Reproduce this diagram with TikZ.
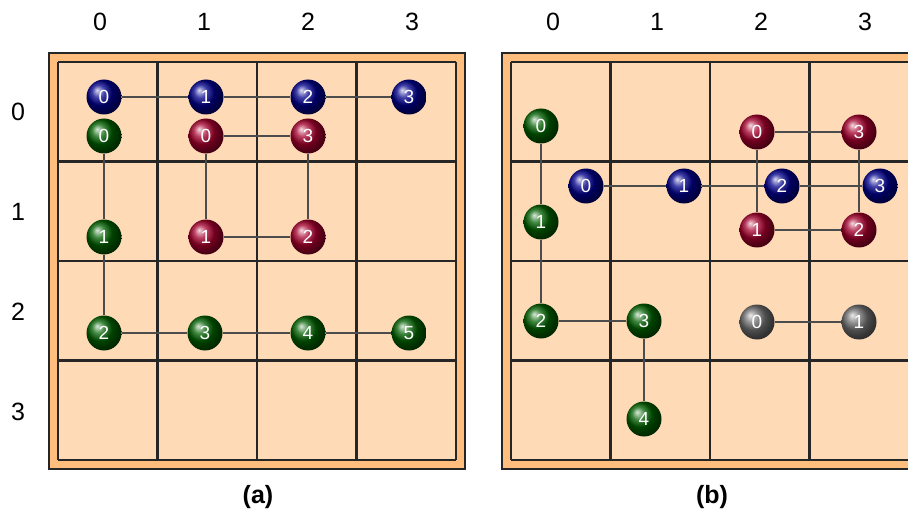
\documentclass[tikz,border=0pt]{standalone}
\usepackage{fontspec}
\setmainfont{Liberation Sans}
\usepackage{tikz}
\usetikzlibrary{positioning}
\definecolor{frameorange}{RGB}{255,190,125}
\definecolor{cellpeach}{RGB}{255,218,182}
\definecolor{meshblue}{RGB}{0,0,140}
\definecolor{meshgreen}{RGB}{0,95,0}
\definecolor{meshred}{RGB}{165,0,45}
\definecolor{meshgray}{RGB}{110,110,110}
\tikzset{
  panelframe/.style={draw=black!85,line width=1.5pt,fill=frameorange},
  gridline/.style={draw=black!85,line width=2.2pt},
  meshball/.style={circle,minimum size=35pt,inner sep=0pt,shading=ball,text=white,
    font=\fontsize{19}{19}\selectfont},
  blueball/.style={meshball,ball color=meshblue},
  greenball/.style={meshball,ball color=meshgreen},
  redball/.style={meshball,ball color=meshred},
  grayball/.style={meshball,ball color=meshgray},
  link/.style={draw=black!70,line width=1.4pt},
  axislabel/.style={font=\fontsize{25}{28}\selectfont},
  panellabel/.style={font=\bfseries\fontsize{25}{28}\selectfont}
}

\begin{document}
\begin{tikzpicture}[x=1pt,y=-1pt]
  \useasboundingbox (0,0) rectangle (908,516);
  % two mesh panels
  \foreach \ox in {49,502} {
    \path[panelframe] (\ox,53) rectangle ++(416,416);
    \path[fill=cellpeach] (\ox+9,62) rectangle ++(398,398);
    \foreach \k in {0,...,4} {
      \draw[gridline] (\ox+9+\k*99.5,62) -- ++(0,398);
      \draw[gridline] (\ox+9,62+\k*99.5) -- ++(398,0);
    }
    \foreach \k in {0,...,3}
      \node[axislabel] at (\ox+51+\k*104,22) {\k};
  }
  \foreach \k in {0,...,3}
    \node[axislabel] at (18,112+\k*100) {\k};
  \node[panellabel] (capa) at (258,497) {(a)};
  \node[panellabel] (capb) at (712,497) {(b)};

  % panel (a)
  \node[blueball] (aB0) at (104,97) {0};
  \node[blueball] (aB1) at (206,97) {1};
  \node[blueball] (aB2) at (308,97) {2};
  \node[blueball] (aB3) at (409,97) {3};
  \node[greenball] (aG0) at (104,136) {0};
  \node[greenball] (aG1) at (104,237) {1};
  \node[greenball] (aG2) at (104,333) {2};
  \node[greenball] (aG3) at (205,333) {3};
  \node[greenball] (aG4) at (308,333) {4};
  \node[greenball] (aG5) at (409,333) {5};
  \node[redball] (aR0) at (206,136) {0};
  \node[redball] (aR3) at (308,136) {3};
  \node[redball] (aR1) at (206,237) {1};
  \node[redball] (aR2) at (308,237) {2};

  % panel (b)
  \node[greenball] (bG0) at (541,126) {0};
  \node[greenball] (bG1) at (541,222) {1};
  \node[greenball] (bG2) at (541,321) {2};
  \node[greenball] (bG3) at (644,321) {3};
  \node[greenball] (bG4) at (644,419) {4};
  \node[blueball] (bB0) at (586,186) {0};
  \node[blueball] (bB1) at (684,186) {1};
  \node[blueball] (bB2) at (782,186) {2};
  \node[blueball] (bB3) at (880,186) {3};
  \node[redball] (bR0) at (757,132) {0};
  \node[redball] (bR3) at (859,132) {3};
  \node[redball] (bR1) at (757,230) {1};
  \node[redball] (bR2) at (859,230) {2};
  \node[grayball] (bK0) at (757,322) {0};
  \node[grayball] (bK1) at (859,322) {1};

  % links
  \foreach \u/\v in {aB0/aB1,aB1/aB2,aB2/aB3,aG0/aG1,aG1/aG2,aG2/aG3,aG3/aG4,aG4/aG5,
      aR0/aR3,aR0/aR1,aR1/aR2,aR3/aR2,bG0/bG1,bG1/bG2,bG2/bG3,bG3/bG4,
      bB0/bB1,bB1/bB2,bB2/bB3,bR0/bR3,bR0/bR1,bR1/bR2,bR3/bR2,bK0/bK1}
    \draw[link] (\u) -- (\v);
\end{tikzpicture}
\end{document}
